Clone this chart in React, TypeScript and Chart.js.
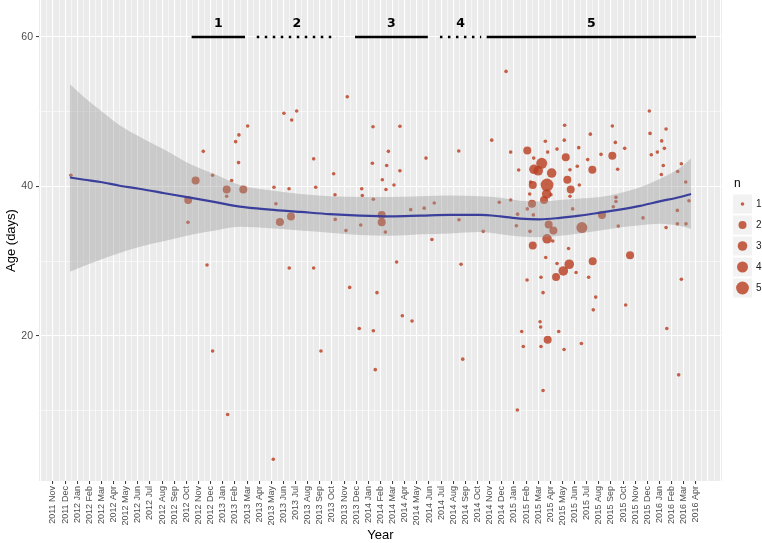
import React, { useEffect, useRef } from 'react';
import { Chart, registerables } from 'chart.js';

Chart.register(...registerables);

// Month tick labels (x value 0 = 2011 Nov, one unit per month)
const monthLabels = [
  '2011 Nov', '2011 Dec',
  '2012 Jan', '2012 Feb', '2012 Mar', '2012 Apr', '2012 May', '2012 Jun', '2012 Jul', '2012 Aug', '2012 Sep', '2012 Oct', '2012 Nov', '2012 Dec',
  '2013 Jan', '2013 Feb', '2013 Mar', '2013 Apr', '2013 May', '2013 Jun', '2013 Jul', '2013 Aug', '2013 Sep', '2013 Oct', '2013 Nov', '2013 Dec',
  '2014 Jan', '2014 Feb', '2014 Mar', '2014 Apr', '2014 May', '2014 Jun', '2014 Jul', '2014 Aug', '2014 Sep', '2014 Oct', '2014 Nov', '2014 Dec',
  '2015 Jan', '2015 Feb', '2015 Mar', '2015 Apr', '2015 May', '2015 Jun', '2015 Jul', '2015 Aug', '2015 Sep', '2015 Oct', '2015 Nov', '2015 Dec',
  '2016 Jan', '2016 Feb', '2016 Mar', '2016 Apr',
];

const yMajorTicks = [20, 40, 60];
const yMinorTicks = [10, 30, 50];

// Observations: x in months since 2011 Nov, y = age (days), n = count
const ptX = [
  1.48, 11.15, 11.13, 11.76, 12.39, 12.7, 13.16, 13.16, 14.4, 14.32, 14.32, 14.73, 15.06, 15.3, 15.33, 15.69, 16.05,
  18.16, 18.22, 18.38, 18.71, 19.04, 19.46, 19.48, 19.62, 19.68, 20.09, 21.49, 21.49, 21.66, 22.09, 23.14, 23.25, 23.27,
  24.15, 24.26, 24.46, 25.25, 25.37, 25.45, 25.5, 26.33, 26.38, 26.41, 26.41, 26.57, 26.71, 27.1, 27.1, 27.15, 27.4,
  27.45, 27.51, 27.65, 28.11, 28.33, 28.6, 28.6, 28.8, 29.49, 29.6, 30.6, 30.75, 31.24, 31.43, 33.45, 33.47, 33.64,
  33.78, 35.47, 36.17, 36.79, 37.35, 37.73, 37.73, 38.2, 38.28, 38.3, 38.39, 38.64, 38.77, 39.08, 39.1, 39.1, 39.3,
  39.32, 39.38, 39.49, 39.55, 39.55, 39.6, 39.63, 39.65, 40.0, 40.15, 40.2, 40.23, 40.23, 40.29, 40.4, 40.4, 40.48,
  40.59, 40.62, 40.7, 40.73, 40.73, 40.78, 40.78, 40.86, 41.05, 41.11, 41.2, 41.25, 41.47, 41.55, 41.55, 41.69, 42.07,
  42.13, 42.15, 42.18, 42.27, 42.4, 42.5, 42.56, 42.62, 42.62, 42.68, 42.84, 43.12, 43.22, 43.34, 43.39, 43.56, 43.6,
  44.08, 44.16, 44.3, 44.46, 44.49, 44.54, 44.74, 45.18, 45.26, 46.11, 46.11, 46.19, 46.36, 46.41, 46.41, 46.55, 46.6,
  47.13, 47.21, 47.57, 48.64, 49.16, 49.22, 49.32, 49.82, 50.15, 50.18, 50.31, 50.4, 50.54, 50.54, 50.6, 51.47, 51.47,
  51.5, 51.58, 51.8, 51.8, 52.16, 52.18, 52.43,
];
const ptY = [
  41.5, 38.2, 35.2, 40.8, 44.7, 29.5, 41.5, 18.0, 9.5, 39.6, 38.7, 40.8, 46.0, 43.2, 46.9, 39.6, 48.1,
  3.5, 39.9, 37.7, 35.25, 49.8, 39.7, 29.1, 36.0, 48.9, 50.1, 43.7, 29.1, 39.9, 18.0, 41.7, 38.9, 35.6,
  34.1, 52.0, 26.5, 21.0, 34.85, 39.7, 38.8, 43.1, 48.0, 38.3, 20.7, 15.5, 25.8, 36.2, 35.2, 40.9, 33.9,
  39.6, 42.8, 44.7, 40.2, 29.9, 42.1, 48.05, 22.7, 36.9, 22.0, 37.1, 43.8, 32.9, 37.8, 44.75, 35.55, 29.6,
  16.9, 34.0, 46.2, 37.9, 55.4, 44.6, 38.2, 34.75, 10.1, 36.3, 42.2, 20.6, 18.6, 27.5, 44.8, 37.0, 39.0,
  34.0, 40.6, 37.7, 40.2, 32.1, 36.2, 43.8, 42.3, 42.1, 21.9, 21.2, 27.85, 18.6, 43.1, 25.8, 12.7, 38.2,
  46.05, 30.5, 39.0, 40.2, 33.0, 44.6, 19.5, 34.9, 38.9, 41.8, 32.7, 34.1, 27.9, 45.0, 29.7, 20.6, 28.7,
  18.2, 46.2, 48.2, 43.9, 40.9, 31.7, 29.6, 42.25, 38.7, 39.6, 37.0, 28.5, 42.7, 45.2, 40.2, 19.0, 34.5,
  43.6, 27.85, 47.0, 42.25, 30.0, 23.5, 25.2, 44.3, 36.2, 48.1, 44.1, 37.3, 45.9, 38.55, 38.0, 42.3, 34.7,
  45.1, 24.15, 30.8, 35.8, 50.1, 47.1, 44.25, 44.6, 41.6, 46.1, 42.8, 45.1, 47.7, 34.5, 21.0, 36.8, 35.0,
  42.0, 14.8, 43.05, 27.6, 40.6, 35.0, 38.1,
];
const ptN = [
  1, 2, 1, 2, 1, 1, 1, 1, 1, 2, 1, 1, 1, 1, 1, 2, 1,
  1, 1, 1, 2, 1, 1, 1, 2, 1, 1, 1, 1, 1, 1, 1, 1, 1,
  1, 1, 1, 1, 1, 1, 1, 1, 1, 1, 1, 1, 1, 2, 2, 1, 1,
  1, 1, 1, 1, 1, 1, 1, 1, 1, 1, 1, 1, 1, 1, 1, 1, 1,
  1, 1, 1, 1, 1, 1, 1, 1, 1, 1, 1, 1, 1, 1, 2, 1, 1,
  1, 1, 2, 2, 2, 1, 1, 3, 3, 1, 1, 1, 1, 4, 1, 1, 2,
  1, 1, 3, 5, 3, 1, 2, 2, 1, 3, 1, 2, 2, 1, 1, 1, 3,
  1, 1, 1, 2, 2, 1, 3, 1, 1, 2, 1, 1, 1, 1, 1, 1, 4,
  1, 1, 1, 2, 2, 1, 1, 1, 2, 1, 2, 1, 1, 1, 1, 1, 1,
  1, 1, 2, 1, 1, 1, 1, 1, 1, 1, 1, 1, 1, 1, 1, 1, 1,
  1, 1, 1, 1, 1, 1, 1,
];

// Smoothed trend with confidence band
const smoothX = [1.4, 2.6, 3.9, 5.5, 7.1, 9.2, 11.3, 13.4, 15.4, 17.9, 20.4, 22.8, 25.3, 27.8, 30.3, 32.7, 35.2, 36.9, 38.5, 40.1, 41.8, 43.4, 45.1, 46.7, 48.4, 50.0, 51.7, 52.6];
const smoothY = [41.2, 40.9, 40.6, 40.1, 39.7, 39.1, 38.5, 37.9, 37.3, 36.9, 36.6, 36.3, 36.1, 36.0, 36.1, 36.2, 36.2, 36.0, 35.7, 35.6, 35.8, 36.1, 36.5, 36.9, 37.4, 38.0, 38.6, 39.0];
const bandUpper = [53.7, 51.9, 50.2, 48.2, 46.7, 44.9, 43.0, 41.6, 40.2, 39.5, 39.0, 38.7, 38.6, 38.6, 38.7, 38.8, 38.7, 38.5, 38.1, 38.0, 38.2, 38.4, 38.6, 39.1, 39.9, 41.0, 42.5, 43.8];
const bandLower = [28.6, 29.4, 30.2, 31.1, 31.9, 32.7, 33.5, 34.1, 34.6, 34.4, 34.1, 33.8, 33.5, 33.4, 33.6, 33.7, 33.9, 33.6, 33.3, 33.2, 33.4, 33.7, 34.1, 34.5, 34.8, 35.0, 34.7, 34.3];

// Period segments drawn at the top
const segLabels = ['1', '2', '3', '4', '5'];
const segStart = [11.43, 16.8, 24.9, 31.9, 35.75];
const segEnd = [15.83, 23.4, 30.9, 35.3, 53.0];
const segDotted = [false, true, false, true, false];
const segY = 60;
const segLabelY = 61.75;

const legendN = [1, 2, 3, 4, 5];

const X_MIN = -1.15;
const X_MAX = 55.15;
const Y_MIN = 0.6;
const Y_MAX = 64.95;

const radiusForN = (n: number) => [0, 1.8, 4.0, 4.8, 5.5, 6.4][n] || 1.8;
const POINT_COLOR = 'rgba(186, 64, 34, 0.82)';
const FONT = '"Liberation Sans", Arial, sans-serif';

export default function App() {
  const ref = useRef<HTMLCanvasElement>(null);

  useEffect(() => {
    document.body.style.margin = '0';
    const canvas = ref.current;
    if (!canvas) return;

    const xTicks: number[] = [];
    for (let v = -1; v <= 55; v += 0.5) xTicks.push(v);
    const yTicks = [...yMinorTicks, ...yMajorTicks].sort((a, b) => a - b);
    const isXMajor = (v: number) => Number.isInteger(v) && v >= 0 && v < monthLabels.length;

    const decor = {
      id: 'decor',
      beforeDraw(chart: any) {
        const { ctx, chartArea } = chart;
        ctx.save();
        ctx.fillStyle = '#EBEBEB';
        ctx.fillRect(chartArea.left, chartArea.top, chartArea.right - chartArea.left, chartArea.bottom - chartArea.top);
        ctx.restore();
      },
      afterDraw(chart: any) {
        const { ctx } = chart;
        const xs = chart.scales.x;
        const ys = chart.scales.y;
        ctx.save();
        // segment labels
        ctx.fillStyle = '#000';
        ctx.font = 'bold 12.5px "DejaVu Sans", sans-serif';
        ctx.textAlign = 'center';
        ctx.textBaseline = 'middle';
        segLabels.forEach((lab, i) => {
          const mid = (segStart[i] + segEnd[i]) / 2;
          ctx.fillText(lab, xs.getPixelForValue(mid), ys.getPixelForValue(segLabelY));
        });
        // size legend
        const keyX = 733;
        const keyW = 19;
        const keyH = 19;
        const firstCenter = 204;
        const step = 21;
        ctx.fillStyle = '#000';
        ctx.font = `12px ${FONT}`;
        ctx.textAlign = 'left';
        ctx.textBaseline = 'middle';
        ctx.fillText('n', keyX + 1, 184);
        legendN.forEach((n, i) => {
          const cy = firstCenter + i * step;
          ctx.fillStyle = '#F2F2F2';
          ctx.fillRect(keyX, cy - keyH / 2, keyW, keyH);
          ctx.fillStyle = POINT_COLOR;
          ctx.beginPath();
          ctx.arc(keyX + keyW / 2, cy, radiusForN(n), 0, Math.PI * 2);
          ctx.fill();
          ctx.fillStyle = '#1A1A1A';
          ctx.font = `10px ${FONT}`;
          ctx.fillText(String(n), keyX + keyW + 4, cy);
        });
        ctx.restore();
      },
    };

    const pointData = ptX.map((x, i) => ({ x, y: ptY[i] }));
    const smoothData = smoothX.map((x, i) => ({ x, y: smoothY[i] }));
    const upperData = smoothX.map((x, i) => ({ x, y: bandUpper[i] }));
    const lowerData = smoothX.map((x, i) => ({ x, y: bandLower[i] }));

    const datasets: any[] = [
      {
        type: 'line',
        label: 'smooth',
        data: smoothData,
        borderColor: '#3B3F9C',
        borderWidth: 2.2,
        pointRadius: 0,
        cubicInterpolationMode: 'monotone',
        fill: false,
        order: 1,
      },
      {
        type: 'line',
        label: 'upper',
        data: upperData,
        borderColor: 'transparent',
        borderWidth: 0,
        pointRadius: 0,
        cubicInterpolationMode: 'monotone',
        backgroundColor: 'rgba(153,153,153,0.4)',
        fill: 2,
        order: 2,
      },
      {
        type: 'line',
        label: 'lower',
        data: lowerData,
        borderColor: 'transparent',
        borderWidth: 0,
        pointRadius: 0,
        cubicInterpolationMode: 'monotone',
        fill: false,
        order: 2,
      },
      {
        type: 'scatter',
        label: 'points',
        data: pointData,
        backgroundColor: POINT_COLOR,
        borderWidth: 0,
        pointRadius: (c: any) => radiusForN(ptN[c.dataIndex]),
        order: 3,
      },
    ];
    segStart.forEach((s, i) => {
      datasets.push({
        type: 'line',
        label: 'seg' + i,
        data: [{ x: s, y: segY }, { x: segEnd[i], y: segY }],
        borderColor: '#000',
        borderWidth: 2.5,
        borderDash: segDotted[i] ? [2.5, 5.5] : [],
        borderCapStyle: 'butt',
        pointRadius: 0,
        fill: false,
        order: 0,
      });
    });

    const chart = new Chart(canvas, {
      type: 'scatter',
      data: { datasets },
      options: {
        responsive: false,
        animation: false,
        devicePixelRatio: 1,
        layout: { autoPadding: false, padding: { left: 0, right: 40, top: 0, bottom: 0 } },
        plugins: {
          legend: { display: false },
          tooltip: { enabled: false },
        },
        scales: {
          x: {
            type: 'linear',
            min: X_MIN,
            max: X_MAX,
            afterBuildTicks: (scale: any) => {
              scale.ticks = xTicks.map((v) => ({ value: v }));
            },
            afterFit: (scale: any) => {
              scale.height = 62;
              scale.paddingLeft = 0;
              scale.paddingRight = 0;
              scale.paddingTop = 0;
              scale.paddingBottom = 0;
            },
            ticks: {
              autoSkip: false,
              maxRotation: 90,
              minRotation: 90,
              padding: 2,
              color: '#4D4D4D',
              font: { size: 9, family: FONT },
              callback: (v: any) => (isXMajor(Number(v)) ? monthLabels[Number(v)] : ''),
            },
            grid: {
              color: '#FFFFFF',
              lineWidth: (c: any) => (c.tick && Number.isInteger(c.tick.value) ? 1.1 : 0.55),
              tickColor: (c: any) => (c.tick && isXMajor(c.tick.value) ? '#333333' : 'rgba(0,0,0,0)'),
              tickLength: 3,
              tickWidth: 1,
            },
            border: { display: false },
            title: {
              display: true,
              text: 'Year',
              color: '#000',
              font: { size: 13, family: FONT },
              padding: { top: 0, bottom: 0 },
            },
          },
          y: {
            type: 'linear',
            min: Y_MIN,
            max: Y_MAX,
            afterBuildTicks: (scale: any) => {
              scale.ticks = yTicks.map((v) => ({ value: v }));
            },
            afterFit: (scale: any) => {
              scale.width = 39;
              scale.paddingLeft = 0;
              scale.paddingRight = 0;
              scale.paddingTop = 0;
              scale.paddingBottom = 0;
            },
            ticks: {
              padding: 3,
              color: '#4D4D4D',
              font: { size: 10.5, family: FONT },
              callback: (v: any) => (yMajorTicks.includes(Number(v)) ? String(v) : ''),
            },
            grid: {
              color: '#FFFFFF',
              lineWidth: (c: any) => (c.tick && yMajorTicks.includes(c.tick.value) ? 1.1 : 0.55),
              tickColor: (c: any) => (c.tick && yMajorTicks.includes(c.tick.value) ? '#333333' : 'rgba(0,0,0,0)'),
              tickLength: 3,
              tickWidth: 1,
            },
            border: { display: false },
            title: {
              display: true,
              text: 'Age (days)',
              color: '#000',
              font: { size: 13, family: FONT },
              padding: { top: 4, bottom: 0 },
            },
          },
        },
      } as any,
      plugins: [decor],
    });

    return () => chart.destroy();
  }, []);

  return (
    <div style={{ width: 762, height: 543, background: '#FFFFFF' }}>
      <canvas ref={ref} width={762} height={543} style={{ width: 762, height: 543, display: 'block' }} />
    </div>
  );
}
